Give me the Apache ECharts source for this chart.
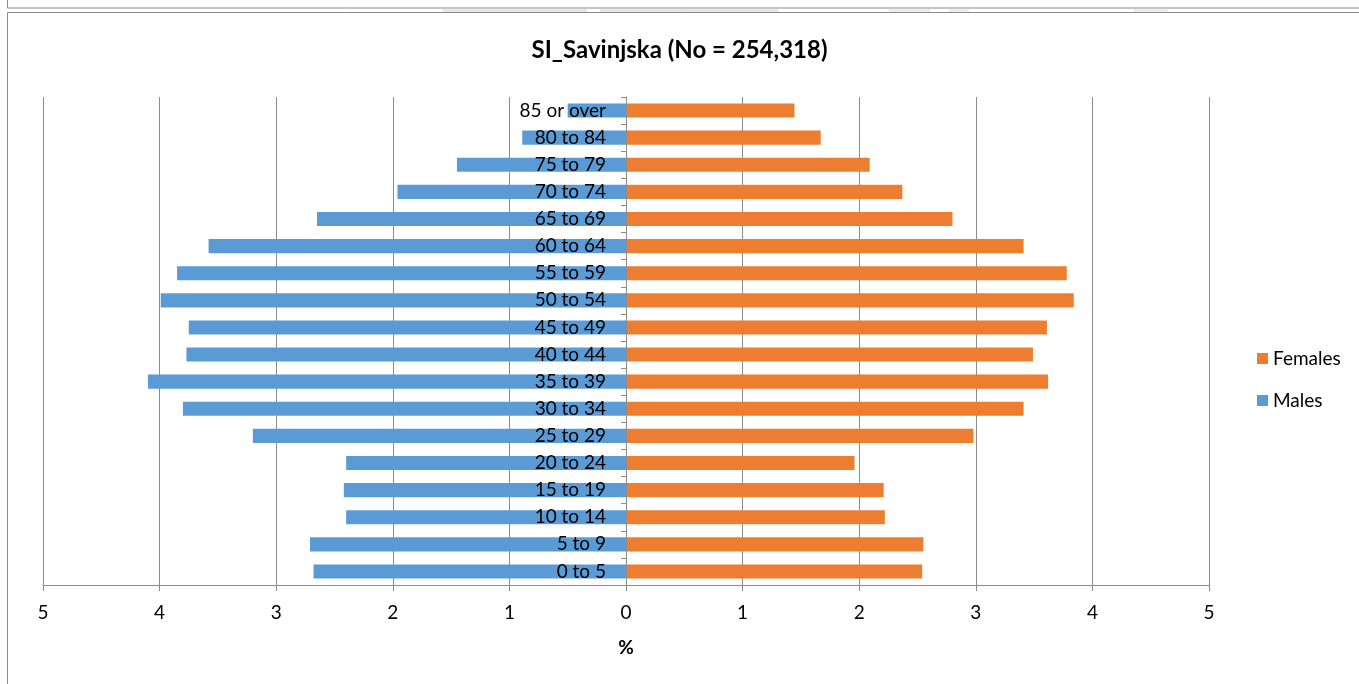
<!DOCTYPE html>
<html>
<head>
<meta charset="utf-8">
<title>SI_Savinjska population pyramid</title>
<script src="https://cdn.jsdelivr.net/npm/echarts@6/dist/echarts.min.js"></script>
<style>
  html, body { margin: 0; padding: 0; background: #ffffff; }
  #chart { width: 1359px; height: 684px; }
</style>
</head>
<body>
<div id="chart"></div>
<script>
// Age groups, youngest first (drawn bottom to top)
const ageGroups = ['0 to 5', '5 to 9', '10 to 14', '15 to 19', '20 to 24', '25 to 29',
  '30 to 34', '35 to 39', '40 to 44', '45 to 49', '50 to 54', '55 to 59',
  '60 to 64', '65 to 69', '70 to 74', '75 to 79', '80 to 84', '85 or over'];

// Share of total population, in %
const malesPct = [2.68, 2.71, 2.40, 2.42, 2.40, 3.20, 3.80, 4.10, 3.77, 3.75,
  3.99, 3.85, 3.58, 2.65, 1.96, 1.45, 0.89, 0.50];
const femalesPct = [2.54, 2.55, 2.22, 2.21, 1.96, 2.98, 3.41, 3.62, 3.49, 3.61,
  3.84, 3.78, 3.41, 2.80, 2.37, 2.09, 1.67, 1.445];

const xTicks = [-5, 5, 1]; // min, max, step

const chartTitle = 'SI_Savinjska (No = 254,318)';
const axisName = '%';

const FONT = 'Lato, "Open Sans", sans-serif';
const GRID_GREY = '#8c8c8c';

// plot area geometry
const GRID_LEFT = 43;
const GRID_RIGHT = 150;
const CHART_W = 1359;

const chart = echarts.init(document.getElementById('chart'), null, { renderer: 'canvas' });

// the category axis sits on the zero of the value axis
const plotWidth = CHART_W - GRID_LEFT - GRID_RIGHT;
const zeroOffset = plotWidth * (0 - xTicks[0]) / (xTicks[1] - xTicks[0]);

chart.setOption({
  animation: false,
  backgroundColor: '#ffffff',
  textStyle: { fontFamily: FONT },
  title: {
    text: chartTitle,
    left: 'center',
    top: 33,
    textStyle: { fontFamily: FONT, fontSize: 24, fontWeight: 'bold', color: '#000000' }
  },
  legend: {
    orient: 'vertical',
    left: 1252,
    top: 344,
    itemWidth: 11,
    itemHeight: 11,
    itemGap: 23,
    icon: 'rect',
    data: ['Females', 'Males'],
    textStyle: { fontFamily: FONT, fontSize: 19, color: '#000000' }
  },
  graphic: [
    // frame of the chart area and the box above it
    { type: 'rect', silent: true, shape: { x: 7.5, y: -10, width: 1400, height: 18 },
      style: { fill: 'none', stroke: '#8a8a8a', lineWidth: 1 } },
    { type: 'rect', silent: true, shape: { x: 7.5, y: 12.5, width: 1400, height: 700 },
      style: { fill: 'none', stroke: '#8a8a8a', lineWidth: 1 } },
    { type: 'rect', silent: true, shape: { x: 443, y: 9, width: 144, height: 3 }, style: { fill: '#e6e6e6' } },
    { type: 'rect', silent: true, shape: { x: 600, y: 9, width: 178, height: 3 }, style: { fill: '#e6e6e6' } },
    { type: 'rect', silent: true, shape: { x: 889, y: 9, width: 41, height: 3 }, style: { fill: '#ececec' } },
    { type: 'rect', silent: true, shape: { x: 949, y: 9, width: 20, height: 3 }, style: { fill: '#ececec' } },
    { type: 'rect', silent: true, shape: { x: 1134, y: 9, width: 34, height: 3 }, style: { fill: '#ececec' } }
  ],
  grid: {
    left: GRID_LEFT,
    right: GRID_RIGHT,
    top: 97,
    bottom: 99,
    containLabel: false,
    outerBoundsMode: 'none'
  },
  xAxis: {
    type: 'value',
    min: xTicks[0],
    max: xTicks[1],
    interval: xTicks[2],
    name: axisName,
    nameLocation: 'middle',
    nameGap: 53,
    nameTextStyle: { fontFamily: FONT, fontSize: 19, fontWeight: 'bold', color: '#000000' },
    axisLine: { show: true, onZero: false, lineStyle: { color: GRID_GREY, width: 1 } },
    axisTick: { show: true, length: 6, lineStyle: { color: GRID_GREY } },
    axisLabel: {
      margin: 18,
      fontFamily: FONT,
      fontSize: 19,
      color: '#000000',
      formatter: v => String(Math.abs(v))
    },
    splitLine: { show: true, lineStyle: { color: GRID_GREY, width: 1 } }
  },
  yAxis: {
    type: 'category',
    data: ageGroups,
    z: 5,
    offset: -zeroOffset,
    axisLine: { show: true, onZero: false, lineStyle: { color: GRID_GREY, width: 1 } },
    axisTick: { show: true, length: 5, lineStyle: { color: GRID_GREY } },
    axisLabel: { margin: 20, fontFamily: FONT, fontSize: 19, color: '#000000' },
    splitLine: { show: false }
  },
  series: [
    {
      name: 'Females',
      type: 'bar',
      data: femalesPct,
      barWidth: '52%',
      barGap: '-100%',
      itemStyle: { color: '#ed7d31' }
    },
    {
      name: 'Males',
      type: 'bar',
      data: malesPct.map(v => -v),
      barWidth: '52%',
      barGap: '-100%',
      itemStyle: { color: '#5b9bd5' }
    }
  ]
});
</script>
</body>
</html>
